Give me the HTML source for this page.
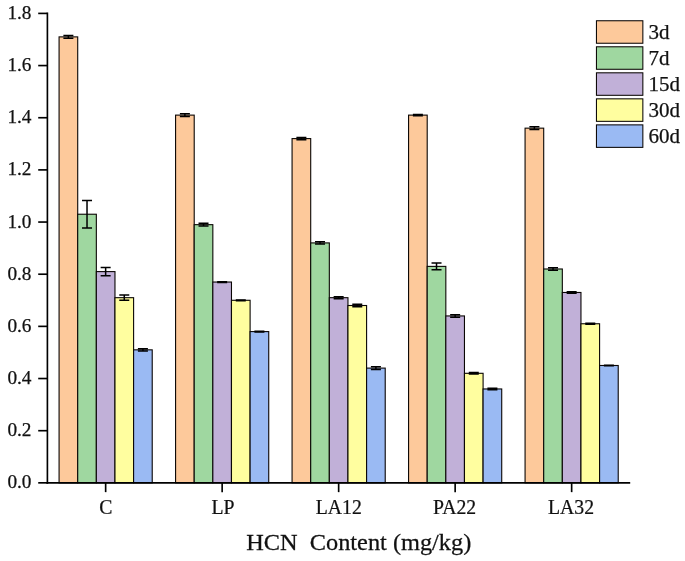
<!DOCTYPE html>
<html lang="en"><head><meta charset="utf-8"><title>HCN Content</title>
<style>html,body{margin:0;padding:0;background:#fff}body{width:685px;height:561px;overflow:hidden}</style></head>
<body>
<svg width="685" height="561" viewBox="0 0 685 561" style="display:block;will-change:transform">
<rect width="685" height="561" fill="#fff"/>
<g stroke="#0a0604" stroke-width="1.1">
<rect x="59.08" y="36.88" width="18.63" height="445.97" fill="#FDC99B"/>
<rect x="77.71" y="214.23" width="18.63" height="268.62" fill="#9FD7A0"/>
<rect x="96.34" y="271.60" width="18.63" height="211.25" fill="#C1B0D8"/>
<rect x="114.97" y="297.68" width="18.63" height="185.17" fill="#FFFE9F"/>
<rect x="133.59" y="349.84" width="18.63" height="133.01" fill="#9ABAF3"/>
<rect x="175.58" y="115.12" width="18.63" height="367.73" fill="#FDC99B"/>
<rect x="194.21" y="224.66" width="18.63" height="258.19" fill="#9FD7A0"/>
<rect x="212.84" y="282.03" width="18.63" height="200.82" fill="#C1B0D8"/>
<rect x="231.47" y="300.29" width="18.63" height="182.56" fill="#FFFE9F"/>
<rect x="250.10" y="331.59" width="18.63" height="151.26" fill="#9ABAF3"/>
<rect x="292.07" y="138.59" width="18.63" height="344.26" fill="#FDC99B"/>
<rect x="310.70" y="242.91" width="18.63" height="239.94" fill="#9FD7A0"/>
<rect x="329.33" y="297.68" width="18.63" height="185.17" fill="#C1B0D8"/>
<rect x="347.96" y="305.51" width="18.63" height="177.34" fill="#FFFE9F"/>
<rect x="366.59" y="368.10" width="18.63" height="114.75" fill="#9ABAF3"/>
<rect x="408.57" y="115.12" width="18.63" height="367.73" fill="#FDC99B"/>
<rect x="427.20" y="266.39" width="18.63" height="216.46" fill="#9FD7A0"/>
<rect x="445.83" y="315.94" width="18.63" height="166.91" fill="#C1B0D8"/>
<rect x="464.46" y="373.31" width="18.63" height="109.54" fill="#FFFE9F"/>
<rect x="483.09" y="388.96" width="18.63" height="93.89" fill="#9ABAF3"/>
<rect x="525.07" y="128.16" width="18.63" height="354.69" fill="#FDC99B"/>
<rect x="543.70" y="268.99" width="18.63" height="213.86" fill="#9FD7A0"/>
<rect x="562.33" y="292.47" width="18.63" height="190.38" fill="#C1B0D8"/>
<rect x="580.96" y="323.76" width="18.63" height="159.09" fill="#FFFE9F"/>
<rect x="599.59" y="365.49" width="18.63" height="117.36" fill="#9ABAF3"/>
</g>
<g stroke="#000" stroke-width="1.5" fill="none">
<path d="M63.39 35.58H73.39M63.39 38.19H73.39M68.39 35.58V38.19"/>
<path d="M82.02 200.40H92.02M82.02 228.05H92.02M87.02 200.40V228.05"/>
<path d="M100.65 267.43H110.65M100.65 275.77H110.65M105.65 267.43V275.77"/>
<path d="M119.28 295.07H129.28M119.28 300.29H129.28M124.28 295.07V300.29"/>
<path d="M137.91 348.80H147.91M137.91 350.89H147.91M142.91 348.80V350.89"/>
<path d="M179.89 113.82H189.89M179.89 116.43H189.89M184.89 113.82V116.43"/>
<path d="M198.52 223.35H208.52M198.52 225.96H208.52M203.52 223.35V225.96"/>
<path d="M217.15 281.64H227.15M217.15 282.43H227.15M222.15 281.64V282.43"/>
<path d="M235.78 299.90H245.78M235.78 300.68H245.78M240.78 299.90V300.68"/>
<path d="M254.41 331.19H264.41M254.41 331.98H264.41M259.41 331.19V331.98"/>
<path d="M296.39 137.55H306.39M296.39 139.64H306.39M301.39 137.55V139.64"/>
<path d="M315.02 241.87H325.02M315.02 243.96H325.02M320.02 241.87V243.96"/>
<path d="M333.65 296.64H343.65M333.65 298.73H343.65M338.65 296.64V298.73"/>
<path d="M352.28 304.20H362.28M352.28 306.81H362.28M357.28 304.20V306.81"/>
<path d="M370.91 366.79H380.91M370.91 369.40H380.91M375.91 366.79V369.40"/>
<path d="M412.89 114.60H422.89M412.89 115.64H422.89M417.89 114.60V115.64"/>
<path d="M431.52 263.00H441.52M431.52 269.78H441.52M436.52 263.00V269.78"/>
<path d="M450.15 314.63H460.15M450.15 317.24H460.15M455.15 314.63V317.24"/>
<path d="M468.78 372.53H478.78M468.78 374.10H478.78M473.78 372.53V374.10"/>
<path d="M487.41 388.18H497.41M487.41 389.74H497.41M492.41 388.18V389.74"/>
<path d="M529.39 126.86H539.39M529.39 129.47H539.39M534.39 126.86V129.47"/>
<path d="M548.02 267.69H558.02M548.02 270.30H558.02M553.02 267.69V270.30"/>
<path d="M566.65 291.68H576.65M566.65 293.25H576.65M571.65 291.68V293.25"/>
<path d="M585.28 323.24H595.28M585.28 324.28H595.28M590.28 323.24V324.28"/>
<path d="M603.91 365.23H613.91M603.91 365.75H613.91M608.91 365.23V365.75"/>
</g>
<g stroke="#000" stroke-width="1.65" fill="none">
<path d="M47.4 12.51V483.80"/>
<path d="M46.45 482.85H630.2"/>
<path d="M38.20 482.85H47.4"/>
<path d="M38.20 430.69H47.4"/>
<path d="M38.20 378.53H47.4"/>
<path d="M38.20 326.37H47.4"/>
<path d="M38.20 274.21H47.4"/>
<path d="M38.20 222.05H47.4"/>
<path d="M38.20 169.89H47.4"/>
<path d="M38.20 117.73H47.4"/>
<path d="M38.20 65.57H47.4"/>
<path d="M38.20 13.41H47.4"/>
<path d="M105.65 482.85V492.15"/>
<path d="M222.15 482.85V492.15"/>
<path d="M338.65 482.85V492.15"/>
<path d="M455.15 482.85V492.15"/>
<path d="M571.65 482.85V492.15"/>
</g>
<g font-family="'Liberation Serif','Times New Roman',serif" fill="#111" stroke="#111" stroke-width="0.25">
<text x="31.5" y="488.45" font-size="19.3" text-anchor="end">0.0</text>
<text x="31.5" y="436.29" font-size="19.3" text-anchor="end">0.2</text>
<text x="31.5" y="384.13" font-size="19.3" text-anchor="end">0.4</text>
<text x="31.5" y="331.97" font-size="19.3" text-anchor="end">0.6</text>
<text x="31.5" y="279.81" font-size="19.3" text-anchor="end">0.8</text>
<text x="31.5" y="227.65" font-size="19.3" text-anchor="end">1.0</text>
<text x="31.5" y="175.49" font-size="19.3" text-anchor="end">1.2</text>
<text x="31.5" y="123.33" font-size="19.3" text-anchor="end">1.4</text>
<text x="31.5" y="71.17" font-size="19.3" text-anchor="end">1.6</text>
<text x="31.5" y="19.01" font-size="19.3" text-anchor="end">1.8</text>
<text transform="translate(105.75 513.9) scale(0.972 1)" font-size="20.3" text-anchor="middle">C</text>
<text transform="translate(223.05 513.9) scale(0.972 1)" font-size="20.3" text-anchor="middle">LP</text>
<text transform="translate(338.75 513.9) scale(0.972 1)" font-size="20.3" text-anchor="middle">LA12</text>
<text transform="translate(454.55 513.9) scale(0.972 1)" font-size="20.3" text-anchor="middle">PA22</text>
<text transform="translate(571.05 513.9) scale(0.972 1)" font-size="20.3" text-anchor="middle">LA32</text>
<text transform="translate(246.3 549.8) scale(1.04 1)" font-size="23.4" xml:space="preserve">HCN  Content (mg/kg)</text>
</g>
<g stroke="#0a0604" stroke-width="1.05">
<rect x="596.45" y="20.75" width="46.4" height="22.5" fill="#FDC99B"/>
<rect x="596.45" y="46.78" width="46.4" height="22.5" fill="#9FD7A0"/>
<rect x="596.45" y="72.81" width="46.4" height="22.5" fill="#C1B0D8"/>
<rect x="596.45" y="98.84" width="46.4" height="22.5" fill="#FFFE9F"/>
<rect x="596.45" y="124.87" width="46.4" height="22.5" fill="#9ABAF3"/>
</g>
<g font-family="'Liberation Serif','Times New Roman',serif" fill="#111" stroke="#111" stroke-width="0.25" font-size="21">
<text x="648.6" y="38.70">3d</text>
<text x="648.6" y="64.73">7d</text>
<text x="648.6" y="90.76">15d</text>
<text x="648.6" y="116.79">30d</text>
<text x="648.6" y="142.82">60d</text>
</g>
</svg>
</body></html>
